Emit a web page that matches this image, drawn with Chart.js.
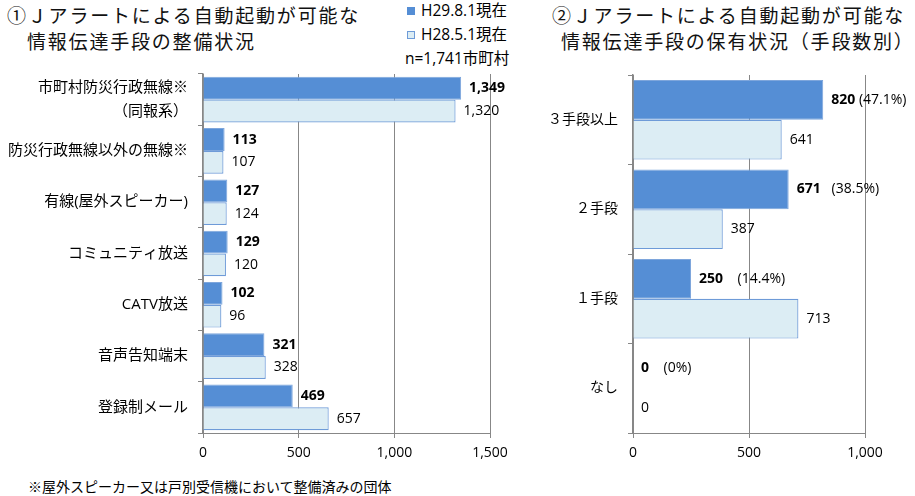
<!DOCTYPE html>
<html>
<head>
<meta charset="utf-8">
<script src="https://cdn.jsdelivr.net/npm/chart.js@4"></script>
<style>
  html, body { margin:0; padding:0; background:#fff; }
  #wrap { position:relative; width:915px; height:496px; overflow:hidden; font-family:"Open Sans","Noto Sans CJK JP",sans-serif; color:#000; }
  .title { position:absolute; font-family:"Noto Sans CJK JP",sans-serif; font-size:19px; letter-spacing:1.8px; line-height:25px; white-space:nowrap; color:#111; }
  .leg { position:absolute; font-size:15.5px; white-space:nowrap; line-height:18px; }
  .sq { position:absolute; width:8px; height:8px; box-sizing:border-box; }
  .box { position:absolute; }
  #foot { position:absolute; left:28px; top:477px; font-family:"Noto Sans CJK JP",sans-serif; font-size:14px; white-space:nowrap; line-height:18px; }
</style>
</head>
<body>
<div id="wrap">
  <div class="title" style="left:7px;top:2px;">①Ｊアラートによる自動起動が可能な</div>
  <div class="title" style="left:27px;top:28px;">情報伝達手段の整備状況</div>
  <div class="title" style="left:552px;top:2px;">②Ｊアラートによる自動起動が可能な</div>
  <div class="title" style="left:561px;top:28px;">情報伝達手段の保有状況（手段数別）</div>

  <div class="sq" style="left:407px;top:7px;background:#558ED5;"></div>
  <div class="leg" style="left:421px;top:1px;" id="leg1"></div>
  <div class="sq" style="left:407px;top:31px;background:#DCEDF4;border:1px solid #6E9BD8;"></div>
  <div class="leg" style="left:421px;top:25px;" id="leg2"></div>
  <div class="leg" style="left:405px;top:49px;" id="legn"></div>

  <div class="box" style="left:0px;top:0px;width:520px;height:470px;"><canvas id="c1"></canvas></div>
  <div class="box" style="left:540px;top:0px;width:375px;height:470px;"><canvas id="c2"></canvas></div>
  <div id="foot">※屋外スピーカー又は戸別受信機において整備済みの団体</div>
</div>
<script>
// ---- data ----
const seriesNames = ['H29.8.1現在', 'H28.5.1現在'];
const sampleNote = 'n=1,741市町村';

const leftCategories = [['市町村防災行政無線※', '（同報系）'], '防災行政無線以外の無線※', '有線(屋外スピーカー)', 'コミュニティ放送', 'CATV放送', '音声告知端末', '登録制メール'];
const leftH29 = [1349, 113, 127, 129, 102, 321, 469];
const leftH28 = [1320, 107, 124, 120, 96, 328, 657];
const leftTicks = [0, 500, 1000, 1500];

const rightCategories = ['３手段以上', '２手段', '１手段', 'なし'];
const rightH29 = [820, 671, 250, 0];
const rightH28 = [641, 387, 713, 0];
const rightPct = [' (47.1%)', '   (38.5%)', '    (14.4%)', '    (0%)'];
const rightTicks = [0, 500, 1000];

document.getElementById('leg1').textContent = seriesNames[0];
document.getElementById('leg2').textContent = seriesNames[1];
document.getElementById('legn').textContent = sampleNote;

const DARK = '#558ED5', DARK_B = '#7EA6DC', LIGHT = '#DCEDF4', LIGHT_B = '#6E9BD8', GRID = '#878787';
const FONT = '"Open Sans","Noto Sans CJK JP",sans-serif';
const fmt = v => v.toLocaleString('en-US');

const labelPlugin = {
  id: 'vlabels',
  afterDatasetsDraw(chart, args, opts) {
    const ctx = chart.ctx;
    chart.data.datasets.forEach((ds, i) => {
      const meta = chart.getDatasetMeta(i);
      meta.data.forEach((el, j) => {
        const v = ds.data[j];
        ctx.save();
        ctx.fillStyle = '#000';
        ctx.textBaseline = 'middle';
        ctx.textAlign = 'left';
        ctx.font = (i === 0 ? 'bold ' : '') + opts.size + 'px ' + FONT;
        const txt = fmt(v);
        const x = el.x + opts.gap;
        ctx.fillText(txt, x, el.y);
        if (i === 0 && opts.suffix) {
          const w = ctx.measureText(txt).width;
          ctx.font = opts.size + 'px ' + FONT;
          ctx.fillText(opts.suffix[j], x + w, el.y);
        }
        ctx.restore();
      });
    });
  }
};

function makeChart(id, cats, d1, d2, ticks, yWidth, pad, yFont, suffix) {
  const max = ticks[ticks.length - 1];
  return new Chart(document.getElementById(id), {
    type: 'bar',
    data: {
      labels: cats,
      datasets: [
        { label: seriesNames[0], data: d1, backgroundColor: DARK, borderColor: DARK_B, borderWidth: 1 },
        { label: seriesNames[1], data: d2, backgroundColor: LIGHT, borderColor: LIGHT_B, borderWidth: 1.2 }
      ]
    },
    options: {
      indexAxis: 'y',
      responsive: true,
      maintainAspectRatio: false,
      animation: false,
      layout: { padding: pad },
      datasets: { bar: { categoryPercentage: 0.89, barPercentage: 1.0 } },
      plugins: {
        legend: { display: false },
        tooltip: { enabled: false },
        vlabels: { size: 14, gap: 8, suffix: suffix }
      },
      scales: {
        x: {
          min: 0, max: max,
          afterBuildTicks: s => { s.ticks = ticks.map(v => ({ value: v })); },
          afterFit: s => { s.height = 37; },
          grid: { color: GRID, lineWidth: 1, tickLength: 5, drawOnChartArea: true },
          border: { color: GRID, width: 1 },
          ticks: { color: '#000', padding: 7, font: { family: FONT, size: 14 }, callback: v => fmt(v), maxRotation: 0 }
        },
        y: {
          afterFit: s => { s.width = yWidth; },
          grid: { color: GRID, lineWidth: 1, tickLength: 5, drawOnChartArea: false, offset: true },
          border: { color: GRID, width: 1.5 },
          ticks: { color: '#000', padding: 10, font: { family: FONT, size: yFont, lineHeight: 1.55 } }
        }
      }
    },
    plugins: [labelPlugin]
  });
}

makeChart('c1', leftCategories, leftH29, leftH28, leftTicks, 203, { top: 74, right: 30, left: 0, bottom: 0 }, 15, null);
makeChart('c2', rightCategories, rightH29, rightH28, rightTicks, 93, { top: 75, right: 50, left: 0, bottom: 0 }, 14, rightPct);
</script>
</body>
</html>
